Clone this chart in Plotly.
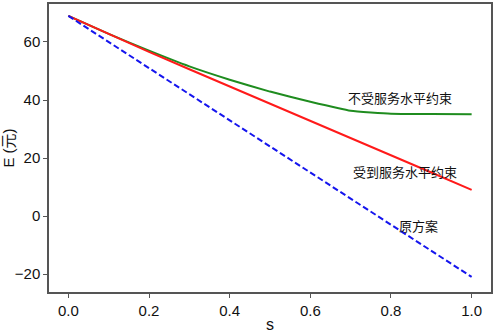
import plotly.graph_objects as go

s = [0.0, 0.1, 0.2, 0.3, 0.4, 0.5, 0.6, 0.7, 0.8, 0.9, 1.0]
e_free = [69.0, 62.8, 57.0, 51.6, 47.0, 42.9, 39.4, 36.3, 35.3, 35.2, 35.1]
e_constrained = [69.0, 62.7, 56.6, 50.6, 44.7, 38.8, 32.8, 26.9, 21.0, 15.0, 9.0]
e_original = [69.0, 60.0, 51.0, 42.0, 33.0, 24.0, 15.0, 6.0, -3.0, -12.0, -21.0]

label_free = "不受服务水平约束"
label_constrained = "受到服务水平约束"
label_original = "原方案"

x_ticks = [0.0, 0.2, 0.4, 0.6, 0.8, 1.0]
x_ticklabels = ["0.0", "0.2", "0.4", "0.6", "0.8", "1.0"]
y_ticks = [-20, 0, 20, 40, 60]

fig = go.Figure()
fig.add_trace(go.Scatter(x=s, y=e_free, mode="lines", line=dict(color="#1f8c1f", width=2, shape="spline", smoothing=0.4), name=label_free))
fig.add_trace(go.Scatter(x=s, y=e_constrained, mode="lines", line=dict(color="#ff1a1a", width=2), name=label_constrained))
fig.add_trace(go.Scatter(x=s, y=e_original, mode="lines", line=dict(color="#1515ee", width=2, dash="6px,3px"), name=label_original))

cjk = "Noto Sans CJK SC"
fig.add_annotation(x=0.822, y=41.0, text=label_free, showarrow=False, font=dict(family=cjk, size=13, color="#111"))
fig.add_annotation(x=0.834, y=15.4, text=label_constrained, showarrow=False, font=dict(family=cjk, size=13, color="#111"))
fig.add_annotation(x=0.868, y=-3.3, text=label_original, showarrow=False, font=dict(family=cjk, size=13, color="#111"))

axis_common = dict(showgrid=False, zeroline=False, showline=True, linecolor="#555", linewidth=1.5,
                   mirror=True, ticks="outside", ticklen=4, tickcolor="#555", tickwidth=1.2,
                   automargin=False,
                   tickfont=dict(family="Liberation Sans, Arial", size=15, color="#111"))

fig.update_xaxes(range=[-0.048, 1.048], tickvals=x_ticks, ticktext=x_ticklabels,
                 title=dict(text="s", font=dict(family="Liberation Sans, Arial", size=16, color="#111"), standoff=2),
                 **axis_common)
fig.update_yaxes(range=[-26.2, 73.1], tickvals=y_ticks,
                 title=dict(text="E (元)", font=dict(family="Liberation Sans, " + cjk, size=15, color="#111"), standoff=2),
                 **axis_common)

fig.update_layout(width=493, height=333, margin=dict(l=49, r=2, t=4, b=41),
                  plot_bgcolor="white", paper_bgcolor="white", showlegend=False)

fig.write_html("out.html", config={"displayModeBar": False},
               post_script="document.body.style.margin='0';document.body.style.overflow='hidden';")
